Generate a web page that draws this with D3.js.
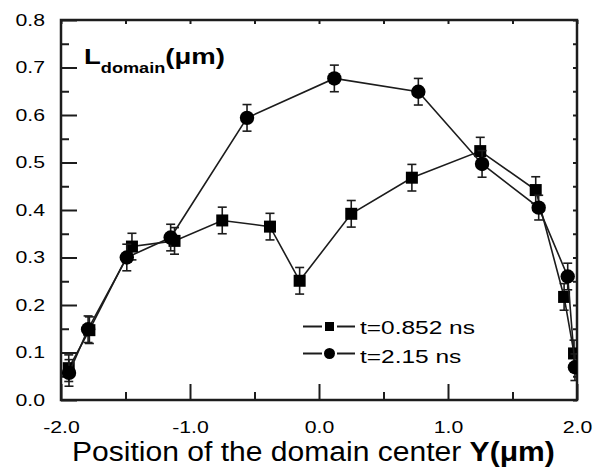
<!DOCTYPE html>
<html>
<head>
<meta charset="utf-8">
<script src="https://cdn.jsdelivr.net/npm/d3@7"></script>
<style>
  html, body { margin: 0; padding: 0; background: #fff; }
  svg { display: block; font-family: "Liberation Sans", Arial, Helvetica, sans-serif; }
</style>
</head>
<body>
<svg id="chart" width="603" height="470"></svg>
<script>
// ---- data ----
const xTicks = [-2.0, -1.0, 0.0, 1.0, 2.0];
const xMinorTicks = [-1.5, -0.5, 0.5, 1.5];
const yTicks = [0.0, 0.1, 0.2, 0.3, 0.4, 0.5, 0.6, 0.7, 0.8];
const yMinorTicks = [0.05, 0.15, 0.25, 0.35, 0.45, 0.55, 0.65, 0.75];

const seriesNames = ["t=0.852 ns", "t=2.15 ns"];

const sqX   = [-1.94, -1.78, -1.45, -1.12, -0.75, -0.38, -0.15, 0.25, 0.72, 1.25, 1.68, 1.90, 1.977];
const sqY   = [0.067, 0.147, 0.323, 0.335, 0.378, 0.365, 0.251, 0.392, 0.468, 0.524, 0.442, 0.217, 0.098];
const sqErr = [0.028, 0.028, 0.028, 0.028, 0.028, 0.028, 0.028, 0.028, 0.028, 0.029, 0.028, 0.028, 0.028];

const ciX   = [-1.938, -1.79, -1.49, -1.15, -0.558, 0.119, 0.77, 1.264, 1.703, 1.928, 1.984];
const ciY   = [0.057, 0.149, 0.300, 0.342, 0.594, 0.677, 0.649, 0.497, 0.405, 0.260, 0.069];
const ciErr = [0.028, 0.028, 0.028, 0.028, 0.028, 0.028, 0.028, 0.028, 0.026, 0.028, 0.028];

// ---- layout ----
const L = 61, R = 577, T = 20, B = 400;
const ink = "#1c1c1c";
const svg = d3.select("#chart");
const x = d3.scaleLinear().domain([-2, 2]).range([L, R]);
const y = d3.scaleLinear().domain([0, 0.8]).range([B, T]);
const fmt = v => d3.format(".1f")(v).replace("\u2212", "-");
const tickSx = 1.25;

// clip
svg.append("defs").append("clipPath").attr("id", "plotclip")
  .append("rect").attr("x", L).attr("y", T).attr("width", R - L).attr("height", B - T);

// ---- axes ----
function styleAxis(g) {
  g.select(".domain").remove();
  g.selectAll(".tick line").attr("stroke", ink).attr("stroke-width", 2);
  g.selectAll("text").attr("fill", "#000").attr("font-size", 17);
}
// bottom major
const gxb = svg.append("g").attr("transform", `translate(0,${B})`)
  .call(d3.axisBottom(x).tickValues(xTicks).tickFormat(fmt).tickSize(-16).tickPadding(21));
styleAxis(gxb);
gxb.selectAll("text").attr("transform", `scale(${tickSx},1)`);
// bottom minor
const gxbm = svg.append("g").attr("transform", `translate(0,${B})`)
  .call(d3.axisBottom(x).tickValues(xMinorTicks).tickFormat("").tickSize(-8));
styleAxis(gxbm);
// top ticks
const gxt = svg.append("g").attr("transform", `translate(0,${T})`)
  .call(d3.axisTop(x).tickValues(xTicks.concat(xMinorTicks)).tickFormat("").tickSize(-4));
styleAxis(gxt);
// left major
const gyl = svg.append("g").attr("transform", `translate(${L},0)`)
  .call(d3.axisLeft(y).tickValues(yTicks).tickFormat(fmt).tickSize(-16).tickPadding(16));
styleAxis(gyl);
gyl.selectAll("text").attr("x", -16 / tickSx).attr("transform", `scale(${tickSx},1)`);
// left minor
const gylm = svg.append("g").attr("transform", `translate(${L},0)`)
  .call(d3.axisLeft(y).tickValues(yMinorTicks).tickFormat("").tickSize(-8));
styleAxis(gylm);
// right ticks
const gyr = svg.append("g").attr("transform", `translate(${R},0)`)
  .call(d3.axisRight(y).tickValues(yTicks.concat(yMinorTicks)).tickFormat("").tickSize(-4));
styleAxis(gyr);

// frame
svg.append("rect").attr("x", L).attr("y", T).attr("width", R - L).attr("height", B - T)
  .attr("fill", "none").attr("stroke", ink).attr("stroke-width", 2.5);

// ---- data ----
const plot = svg.append("g").attr("clip-path", "url(#plotclip)");
const line = d3.line().x(d => x(d[0])).y(d => y(d[1]));
const sqData = sqX.map((v, i) => [v, sqY[i], sqErr[i]]);
const ciData = ciX.map((v, i) => [v, ciY[i], ciErr[i]]);

function drawSeries(data, kind) {
  const g = plot.append("g");
  g.append("path").datum(data).attr("d", line)
    .attr("fill", "none").attr("stroke", ink).attr("stroke-width", 1.6);
  const eb = g.append("g").attr("stroke", ink).attr("stroke-width", 1.6);
  data.forEach(d => {
    const cx = x(d[0]), y1 = y(d[1] + d[2]), y0 = y(d[1] - d[2]);
    eb.append("line").attr("x1", cx).attr("x2", cx).attr("y1", y1).attr("y2", y0);
    eb.append("line").attr("x1", cx - 4.5).attr("x2", cx + 4.5).attr("y1", y1).attr("y2", y1);
    eb.append("line").attr("x1", cx - 4.5).attr("x2", cx + 4.5).attr("y1", y0).attr("y2", y0);
  });
  if (kind === "square") {
    g.selectAll("rect.m").data(data).join("rect").attr("class", "m")
      .attr("x", d => x(d[0]) - 6).attr("y", d => y(d[1]) - 6)
      .attr("width", 12).attr("height", 12).attr("fill", "#000");
  } else {
    g.selectAll("circle.m").data(data).join("circle").attr("class", "m")
      .attr("cx", d => x(d[0])).attr("cy", d => y(d[1])).attr("r", 7.2).attr("fill", "#000");
  }
}
drawSeries(sqData, "square");
drawSeries(ciData, "circle");

// ---- legend ----
const legendRows = [{name: seriesNames[0], kind: "square", cy: 326.5, base: 334},
                    {name: seriesNames[1], kind: "circle", cy: 353.5, base: 363}];
const lg = svg.append("g");
let legSx = null;
legendRows.forEach(r => {
  lg.append("line").attr("x1", 303).attr("x2", 322).attr("y1", r.cy).attr("y2", r.cy)
    .attr("stroke", ink).attr("stroke-width", 2);
  lg.append("line").attr("x1", 337).attr("x2", 355).attr("y1", r.cy).attr("y2", r.cy)
    .attr("stroke", ink).attr("stroke-width", 2);
  if (r.kind === "square") {
    lg.append("rect").attr("x", 325).attr("y", r.cy - 4.5).attr("width", 9).attr("height", 9).attr("fill", "#000");
  } else {
    lg.append("circle").attr("cx", 329.5).attr("cy", r.cy).attr("r", 5.5).attr("fill", "#000");
  }
  const t = lg.append("text").attr("font-size", 19).attr("fill", "#000").text(r.name);
  if (legSx === null) legSx = 115 / t.node().getComputedTextLength();
  t.attr("transform", `translate(360,${r.base}) scale(${legSx},1)`);
});

// ---- y title ----
const ttl = svg.append("text").attr("font-weight", "bold").attr("fill", "#000").attr("font-size", 22);
ttl.append("tspan").text("L");
ttl.append("tspan").attr("font-size", 14.5).attr("dy", 8.6).text("domain");
ttl.append("tspan").attr("dy", -8.6).text("(\u03bcm)");
const ttlSx = 141 / ttl.node().getComputedTextLength();
ttl.attr("transform", `translate(84,64) scale(${ttlSx},1)`);

// ---- x label ----
const xl = svg.append("text").attr("font-size", 27).attr("fill", "#000");
xl.append("tspan").text("Position of the domain center ");
xl.append("tspan").attr("font-weight", "bold").text("Y(\u03bcm)");
const xlSx = 483 / xl.node().getComputedTextLength();
xl.attr("transform", `translate(72,461) scale(${xlSx},1)`);
</script>
</body>
</html>
